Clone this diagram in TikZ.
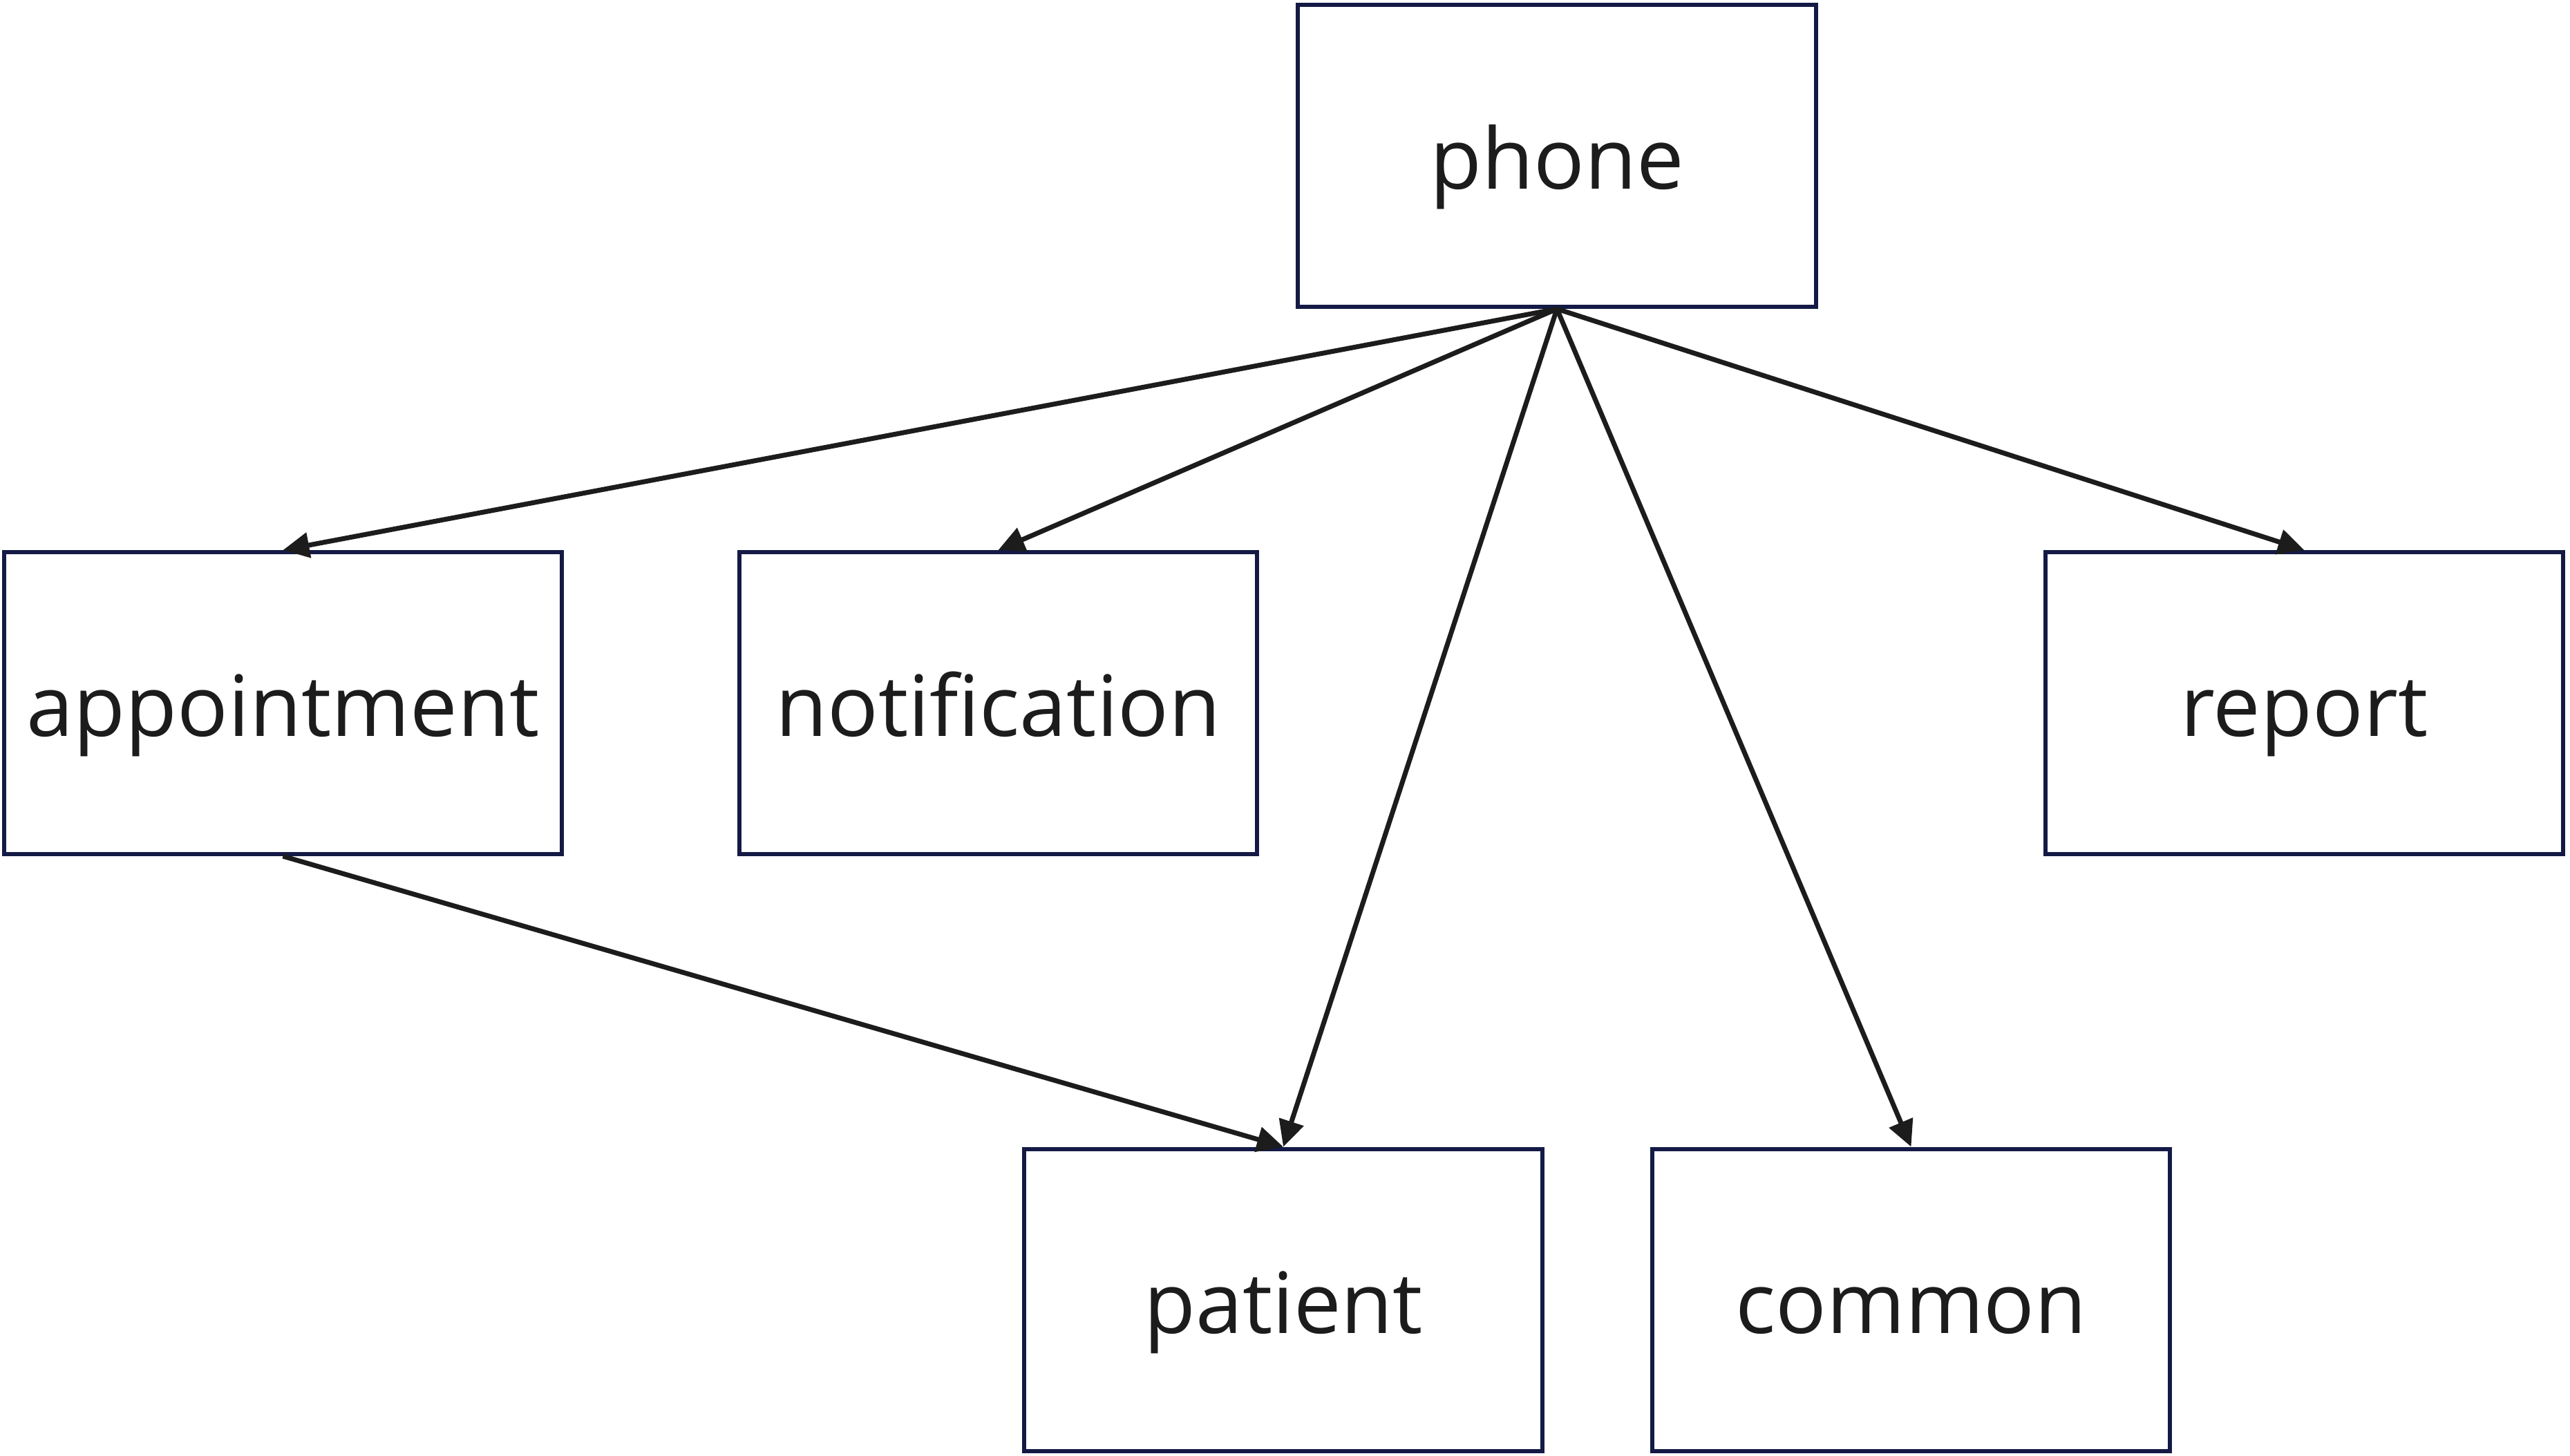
\documentclass[tikz,border=0pt]{standalone}
\usepackage{fontspec}
\setmainfont{Open Sans}
\usetikzlibrary{arrows.meta}
\definecolor{boxline}{HTML}{141A45}
\definecolor{ink}{HTML}{1C1C1C}
\tikzset{
  box/.style={draw=boxline, line width=0.06cm, fill=white, minimum height=4.37cm, inner sep=0pt, text=ink,
    font=\fontsize{34.8}{40}\selectfont, text height=0.96cm, text depth=0cm},
  link/.style={draw=ink, line width=0.07cm, -{Triangle[length=0.38cm,width=0.36cm]}}
}
\begin{document}
\begin{tikzpicture}
\useasboundingbox (0,0) rectangle (37.19,-21.06);
\node[box, minimum width=7.50cm] (phone) at (22.53,-2.255) {phone};
\node[box, minimum width=8.07cm] (appointment) at (4.095,-10.175) {appointment};
\node[box, minimum width=7.49cm] (notification) at (14.445,-10.175) {notification};
\node[box, minimum width=7.49cm] (report) at (33.345,-10.175) {report};
\node[box, minimum width=7.50cm] (patient) at (18.57,-18.81) {patient};
\node[box, minimum width=7.49cm] (common) at (27.655,-18.81) {common};
\draw[link] (phone.south) -- (appointment.north);
\draw[link] (phone.south) -- (notification.north);
\draw[link] (phone.south) -- (patient.north);
\draw[link] (phone.south) -- (common.north);
\draw[link] (phone.south) -- (report.north);
\draw[link] (appointment.south) -- (patient.north);
\end{tikzpicture}
\end{document}
